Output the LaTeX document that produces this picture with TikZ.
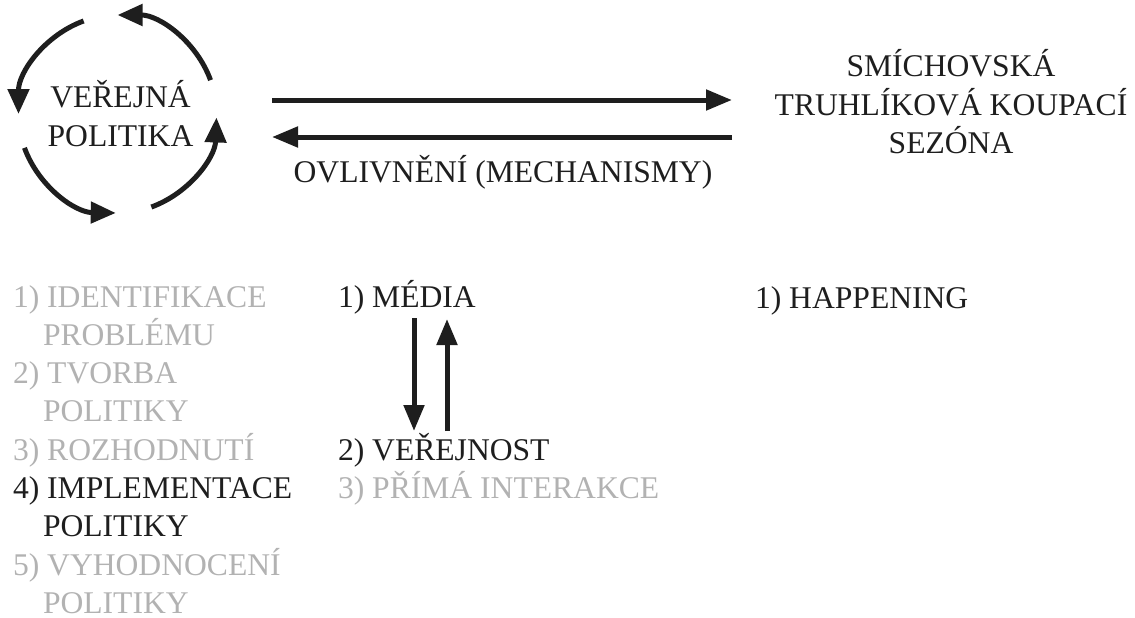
\documentclass[tikz,border=0pt]{standalone}
\usepackage{fontspec}
\setmainfont{Liberation Serif}
\usetikzlibrary{arrows.meta}
\definecolor{lightgreytext}{RGB}{178,178,178}
\definecolor{inktext}{RGB}{30,30,30}
\tikzset{
  lbl/.style={inner sep=0pt, outer sep=0pt, font=\fontsize{31.6}{38.7}\selectfont, text=inktext},
  dim/.style={lbl, text=lightgreytext},
  bigarrow/.style={line width=5pt, draw=inktext, -{Triangle[length=26pt,width=20pt]}},
  cycarrow/.style={line width=5pt, draw=inktext, -{Triangle[length=25pt,width=21pt]}}
}
\begin{document}
\begin{tikzpicture}[x=1pt,y=1pt]
\useasboundingbox (0,0) rectangle (1135,-618);

% cycle around "VEŘEJNÁ POLITIKA"
\coordinate (cc) at (117.5,-114);
\node[lbl, anchor=base] (vp1) at (120.5,-107) {VEŘEJNÁ};
\node[lbl, anchor=base] (vp2) at (120.5,-146) {POLITIKA};
\draw[cycarrow] ([shift={(110:99)}]cc) arc[start angle=110, end angle=180, radius=99];
\draw[cycarrow] ([shift={(200:99)}]cc) arc[start angle=200, end angle=269, radius=99];
\draw[cycarrow] ([shift={(290:99)}]cc) arc[start angle=290, end angle=358, radius=99];
\draw[cycarrow] ([shift={(20:99)}]cc) arc[start angle=20, end angle=90, radius=99];

% right text
\node[lbl, anchor=base] (rt1) at (951,-77) {SMÍCHOVSKÁ};
\node[lbl, anchor=base] (rt2) at (951,-115) {TRUHLÍKOVÁ KOUPACÍ};
\node[lbl, anchor=base] (rt3) at (951,-153) {SEZÓNA};

% horizontal arrows
\coordinate (hL1) at (272,-100);
\coordinate (hR1) at (732,-100);
\coordinate (hL2) at (272,-137);
\coordinate (hR2) at (732,-137);
\draw[bigarrow] (hL1) -- (hR1);
\draw[bigarrow] (hR2) -- (hL2);
\node[lbl, anchor=base] (ovl) at (503,-182) {OVLIVNĚNÍ (MECHANISMY)};

% left list
\node[dim, anchor=base west] (l1) at (13,-307) {1) IDENTIFIKACE};
\node[dim, anchor=base west] (l2) at (43,-345.3) {PROBLÉMU};
\node[dim, anchor=base west] (l3) at (13,-383.6) {2) TVORBA};
\node[dim, anchor=base west] (l4) at (43,-421.9) {POLITIKY};
\node[dim, anchor=base west] (l5) at (13,-460.2) {3) ROZHODNUTÍ};
\node[lbl, anchor=base west] (l6) at (13,-498.5) {4) IMPLEMENTACE};
\node[lbl, anchor=base west] (l7) at (43,-536.8) {POLITIKY};
\node[dim, anchor=base west] (l8) at (13,-575.1) {5) VYHODNOCENÍ};
\node[dim, anchor=base west] (l9) at (43,-613.4) {POLITIKY};

% middle column
\node[lbl, anchor=base west] (m1) at (338,-307) {1) MÉDIA};
\node[lbl, anchor=base west] (m2) at (338,-460.2) {2) VEŘEJNOST};
\node[dim, anchor=base west] (m3) at (338,-498.5) {3) PŘÍMÁ INTERAKCE};
\coordinate (dTop) at (414,-318);
\coordinate (dBot) at (414,-431);
\coordinate (uBot) at (447,-431);
\coordinate (uTop) at (447,-319);
\draw[bigarrow] (dTop) -- (dBot);
\draw[bigarrow] (uBot) -- (uTop);

% right column
\node[lbl, anchor=base west] (h1) at (755,-308) {1) HAPPENING};
\end{tikzpicture}
\end{document}
